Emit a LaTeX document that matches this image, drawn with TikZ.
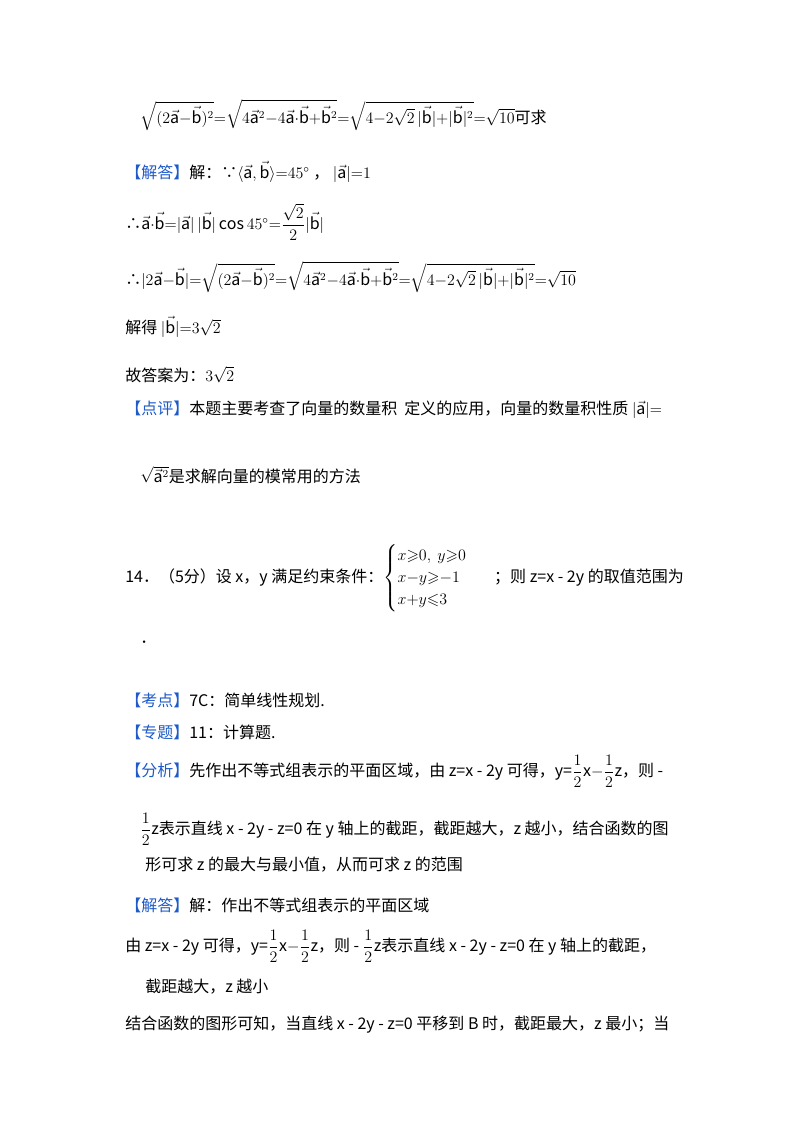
\documentclass[tikz,border=0pt]{standalone}
\usepackage{amsmath,amssymb}
\usepackage{fontspec}
\setmainfont{Noto Sans CJK SC}
\definecolor{hb}{RGB}{30,90,200}
\newcommand{\hd}[1]{{\color{hb}【#1】}}
\newcommand{\va}{\vec{\mathrm a}}
\newcommand{\vb}{\vec{\mathrm b}}
\newcommand{\hf}{\dfrac12}
\newcommand{\tightmath}{\medmuskip=0mu\relax\thickmuskip=0mu\relax}
\begin{document}
\begin{tikzpicture}[x=0.75pt,y=-0.75pt,txt/.style={anchor=west,inner sep=0pt,font=\fontsize{12}{14}\selectfont\tightmath}]
\useasboundingbox (0,0) rectangle (800,1133);
\node[txt] (l1) at (140,115) {$\sqrt{(2\va-\vb)^2}=\sqrt{4\va^2-4\va\cdot\vb+\vb^2}=\sqrt{4-2\sqrt2\,|\vb|+|\vb|^2}=\sqrt{10}$可求};
\node[txt] (l2) at (125,172) {\hd{解答}解：∵$\langle\va,\vb\rangle=45^\circ$ ， $|\va|=1$};
\node[txt] (l3) at (125,222) {∴$\va\cdot\vb=|\va|\,|\vb|\cos45^\circ=\dfrac{\sqrt2}{2}|\vb|$};
\node[txt] (l4) at (125,277) {∴$|2\va-\vb|=\sqrt{(2\va-\vb)^2}=\sqrt{4\va^2-4\va\cdot\vb+\vb^2}=\sqrt{4-2\sqrt2\,|\vb|+|\vb|^2}=\sqrt{10}$};
\node[txt] (l5) at (125,327) {解得 $|\vb|=3\sqrt2$};
\node[txt] (l6) at (125,375) {故答案为：$3\sqrt2$};
\node[txt] (l7) at (125,410) {\hd{点评}本题主要考查了向量的数量积\ \ 定义的应用，向量的数量积性质 $|\va|=$};
\node[txt] (l8) at (140,475) {$\sqrt{\va^2}$是求解向量的模常用的方法};
\node[txt] (l9) at (125,578) {14．（5分）设 x，y 满足约束条件：$\begin{cases}x\geqslant0,\ y\geqslant0\\ x-y\geqslant-1\\ x+y\leqslant3\end{cases}$\ \ \ ；则 z=x - 2y 的取值范围为};
\node[txt] (l10) at (140,642) {．};
\node[txt] (l11) at (125,700) {\hd{考点}7C：简单线性规划.};
\node[txt] (l12) at (125,732) {\hd{专题}11：计算题.};
\node[txt] (l13) at (125,771) {\hd{分析}先作出不等式组表示的平面区域，由 z=x - 2y 可得，y=$\hf$x$-\hf$z，则 -};
\node[txt] (l14) at (140,829) {$\hf$z表示直线 x - 2y - z=0 在 y 轴上的截距，截距越大，z 越小，结合函数的图};
\node[txt] (l15) at (145,865) {形可求 z 的最大与最小值，从而可求 z 的范围};
\node[txt] (l16) at (125,905) {\hd{解答}解：作出不等式组表示的平面区域};
\node[txt] (l17) at (125,946) {由 z=x - 2y 可得，y=$\hf$x$-\hf$z，则 - $\hf$z表示直线 x - 2y - z=0 在 y 轴上的截距，};
\node[txt] (l18) at (145,987) {截距越大，z 越小};
\node[txt] (l19) at (125,1025) {结合函数的图形可知，当直线 x - 2y - z=0 平移到 B 时，截距最大，z 最小；当};
\end{tikzpicture}
\end{document}
